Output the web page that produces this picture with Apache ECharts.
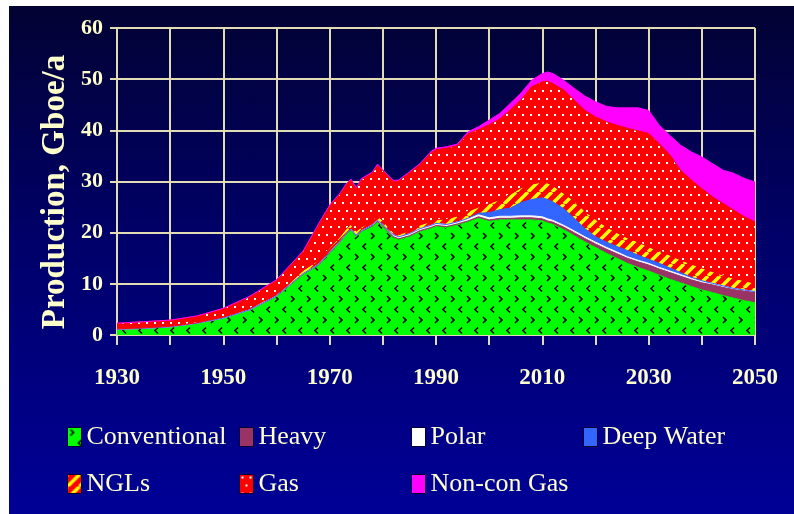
<!DOCTYPE html>
<html>
<head>
<meta charset="utf-8">
<script src="https://cdn.jsdelivr.net/npm/echarts/dist/echarts.min.js"></script>
<style>
  html, body { margin: 0; padding: 0; background: #ffffff; }
  #bg {
    position: absolute; left: 9px; top: 6px; width: 785px; height: 508px;
    background: linear-gradient(to bottom, #020233 0%, #000068 45%, #000096 100%);
  }
  #chart { position: absolute; left: 0; top: 0; width: 794px; height: 514px; }
</style>
</head>
<body>
<div id="bg"></div>
<div id="chart"></div>
<script>
var years = [1930,1935,1940,1945,1950,1955,1960,1965,
  1968,1970,1972,1973,1974,1975,1976,1978,1979,1980,
  1981,1982,1983,1985,1987,1989,1990,1992,1994,1996,
  1998,2000,2002,2004,2006,2008,2010,2011,2012,2014,
  2016,2018,2020,2022,2024,2026,2028,2030,2032,2034,
  2036,2038,2040,2042,2044,2046,2048,2050];

// Gboe/a, each series is its own band (stacked)
var conventional = [1.1,1.3,1.6,2.3,3.3,4.9,7.5,11.8,
  13.7,16.0,18.2,19.5,20.5,19.3,20.2,21.2,22.1,21.2,
  20.0,19.0,18.6,19.2,20.2,20.8,21.2,21.0,21.5,22.1,
  22.8,22.2,22.5,22.5,22.5,22.5,22.3,21.9,21.6,20.6,
  19.4,18.2,17.1,16.0,15.0,14.0,13.2,12.5,11.7,10.9,
  10.2,9.5,8.8,8.3,7.7,7.2,6.7,6.3];
var heavy = [0,0,0,0,0,0.05,0.1,0.1,
  0.1,0.1,0.1,0.1,0.1,0.1,0.1,0.1,0.1,0.1,
  0.2,0.2,0.2,0.2,0.2,0.2,0.2,0.2,0.2,0.2,
  0.3,0.3,0.3,0.3,0.4,0.4,0.4,0.4,0.45,0.5,
  0.6,0.65,0.7,0.8,0.9,1.0,1.1,1.2,1.2,1.3,
  1.3,1.3,1.4,1.5,1.6,1.7,1.9,2.0];
var polar = [0,0,0,0,0,0,0.05,0.1,
  0.1,0.1,0.1,0.1,0.1,0.1,0.1,0.2,0.2,0.3,
  0.3,0.4,0.4,0.4,0.4,0.4,0.4,0.4,0.4,0.4,
  0.4,0.4,0.4,0.4,0.4,0.4,0.4,0.4,0.35,0.35,
  0.35,0.35,0.35,0.35,0.35,0.3,0.3,0.3,0.3,0.3,
  0.3,0.3,0.3,0.3,0.3,0.2,0.2,0.2];
var deepWater = [0,0,0,0,0,0,0,0,
  0,0,0,0,0,0,0,0,0,0,
  0,0,0,0,0,0,0,0,0,0.1,
  0.3,1.0,1.3,1.6,2.6,3.2,3.7,3.8,3.6,3.25,
  2.45,1.6,1.05,1.05,1.05,1.2,1.0,0.8,0.8,0.6,
  0.4,0.2,0.1,0,0,0,0,0];
var ngls = [0.1,0.1,0.1,0.1,0.2,0.25,0.35,0.6,
  0.8,0.8,0.9,0.9,0.9,0.8,0.7,0.8,0.8,0.8,
  0.6,0.4,0.4,0.6,0.7,0.8,0.8,1.0,1.2,1.4,
  1.2,1.8,2.0,2.7,2.9,3.0,3.1,3.2,3.2,3.0,
  3.4,3.4,3.4,3.0,2.7,2.5,2.6,2.4,2.5,2.5,
  2.5,2.6,2.5,2.3,2.1,2.0,1.8,1.6];
var gas = [1.1,1.2,1.2,1.3,1.7,2.3,2.7,3.7,
  7.1,8.2,8.3,8.6,8.7,8.3,9.3,9.3,10.0,9.7,
  9.9,10.0,10.5,11.3,11.8,13.3,13.6,13.9,13.7,15.1,
  15.1,15.4,15.7,16.5,17.2,19.0,19.6,19.9,19.9,20.2,
  19.7,19.7,20.0,20.5,21.0,21.4,21.7,22.2,20.9,19.6,
  17.5,16.4,15.5,14.6,14.0,13.3,12.5,12.0];
var nonConGas = [0,0,0,0,0,0.1,0.1,0.1,
  0.1,0.2,0.2,0.2,0.2,0.2,0.2,0.2,0.2,0.2,
  0.2,0.2,0.2,0.2,0.2,0.3,0.3,0.3,0.3,0.4,
  0.6,0.9,1.1,1.3,1.3,1.3,1.6,1.8,2.0,1.9,
  2.3,2.8,3.0,3.0,3.4,4.0,4.5,4.5,3.6,3.8,
  4.9,5.5,6.2,6.5,6.5,7.2,7.5,7.8];

var yTicks = [0, 60, 10];
var xTicks = [1930, 2050, 10];
var names = ['Conventional','Heavy','Polar','Deep Water','NGLs','Gas','Non-con Gas'];

var cream = '#FFFFCC';
var gridCol = '#E2DCB4';

function tile(w, h, draw) {
  var c = document.createElement('canvas');
  c.width = w; c.height = h;
  draw(c.getContext('2d'));
  return {image: c, repeat: 'repeat'};
}

var greenFill = tile(16, 21, function (ctx) {
  ctx.fillStyle = '#00FF00'; ctx.fillRect(0, 0, 16, 21);
  ctx.strokeStyle = '#000000'; ctx.lineWidth = 1.6;
  ctx.beginPath();
  ctx.moveTo(3, 2); ctx.lineTo(6, 5); ctx.lineTo(3, 8);
  ctx.moveTo(14, 12.5); ctx.lineTo(11, 15.5); ctx.lineTo(14, 18.5);
  ctx.stroke();
});
var gasFill = tile(8, 16, function (ctx) {
  ctx.fillStyle = '#FF0000'; ctx.fillRect(0, 0, 8, 16);
  ctx.fillStyle = '#FFFFFF';
  ctx.fillRect(2, 2, 2, 2);
  ctx.fillRect(6, 10, 2, 2);
});
var nglFill = tile(12, 12, function (ctx) {
  ctx.fillStyle = '#FF0000'; ctx.fillRect(0, 0, 12, 12);
  ctx.strokeStyle = '#FFFF00'; ctx.lineWidth = 3.5;
  ctx.beginPath();
  for (var k = -1; k <= 1; k++) {
    ctx.moveTo(k * 12, 12); ctx.lineTo(k * 12 + 12, 0);
  }
  ctx.stroke();
});

var fills = [greenFill, '#993366', '#FFFFFF', '#3366FF', nglFill, gasFill, '#FF00FF'];
var edges = ['#00FF00', '#993366', '#FFFFFF', '#3366FF', '#FF0000', '#FF0000', '#FF00FF'];
var values = [conventional, heavy, polar, deepWater, ngls, gas, nonConGas];

// value first so the library stacks the y dimension (stacked by index, same years for all)
var series = names.map(function (n, i) {
  return {
    name: n,
    type: 'line',
    stack: 'total',
    symbol: 'none',
    smooth: false,
    encode: {x: 1, y: 0},
    itemStyle: {color: fills[i]},
    lineStyle: {width: 1, color: edges[i]},
    areaStyle: {color: fills[i], opacity: 1},
    data: years.map(function (y, j) { return [values[i][j], y]; })
  };
});

var legendPos = [[67, 424], [239, 424], [411, 424], [583, 424], [67, 471], [239, 471], [411, 471]];
var legends = names.map(function (n, i) {
  return {
    data: [{name: n, itemStyle: {color: fills[i], borderColor: '#000033', borderWidth: 1}}],
    left: legendPos[i][0], top: legendPos[i][1],
    padding: 0, icon: 'rect', itemWidth: 14, itemHeight: 19,
    selectedMode: false,
    textStyle: {color: cream, fontFamily: 'Liberation Serif', fontSize: 26}
  };
});

var chart = echarts.init(document.getElementById('chart'));
chart.setOption({
  animation: false,
  backgroundColor: 'transparent',
  grid: {left: 117, right: 39, top: 28, bottom: 179, containLabel: false, outerBoundsMode: 'none'},
  legend: legends,
  graphic: [{
    type: 'text', x: 55, y: 192, rotation: Math.PI / 2,
    style: {text: 'Production, Gboe/a', fill: cream, font: 'bold 33px "Liberation Serif"',
      align: 'center', verticalAlign: 'middle'}
  }],
  xAxis: {
    type: 'value', min: xTicks[0], max: xTicks[1], interval: xTicks[2],
    axisLine: {show: true, lineStyle: {color: gridCol, width: 2}},
    axisTick: {show: true, length: 10, lineStyle: {color: gridCol, width: 2}},
    splitLine: {show: true, lineStyle: {color: gridCol, width: 2}},
    axisLabel: {
      color: cream, fontFamily: 'Liberation Serif', fontWeight: 'bold', fontSize: 23, margin: 32,
      showMinLabel: true, showMaxLabel: true,
      formatter: function (v) { return (v - 1930) % 20 === 0 ? String(v) : ''; }
    }
  },
  yAxis: {
    type: 'value', min: yTicks[0], max: yTicks[1], interval: yTicks[2],
    axisLine: {show: true, lineStyle: {color: gridCol, width: 2}},
    axisTick: {show: true, length: 7, lineStyle: {color: gridCol, width: 2}},
    splitLine: {show: true, lineStyle: {color: gridCol, width: 2}},
    axisLabel: {color: cream, fontFamily: 'Liberation Serif', fontWeight: 'bold', fontSize: 22, margin: 14}
  },
  series: series
});
</script>
</body>
</html>
